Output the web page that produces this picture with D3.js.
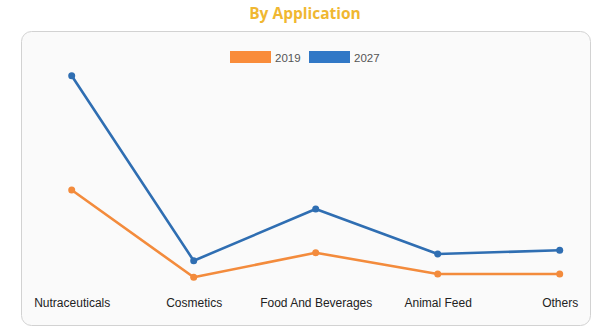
<!DOCTYPE html>
<html>
<head>
<meta charset="utf-8">
<script src="https://cdn.jsdelivr.net/npm/d3@7"></script>
<style>
  html, body { margin: 0; padding: 0; background: #ffffff; }
  svg { display: block; }
</style>
</head>
<body>
<svg id="chart" width="611" height="331"></svg>
<script>
const title = "By Application";
const categories = ["Nutraceuticals", "Cosmetics", "Food And Beverages", "Animal Feed", "Others"];
const seriesNames = ["2019", "2027"];
const values2019 = [803, 102, 299, 128, 128];
const values2027 = [1720, 235, 650, 289, 319];
const colors = ["#f38b3c", "#2f6eb2"];
const legendColors = ["#f98c3a", "#3178c6"];

const svg = d3.select("#chart");

// title
svg.append("text")
  .attr("x", 305).attr("y", 19)
  .attr("text-anchor", "middle")
  .attr("font-family", "'Open Sans', sans-serif")
  .attr("font-weight", "bold")
  .attr("font-size", 15.5)
  .attr("fill", "#f0b731")
  .text(title);

// panel
svg.append("rect")
  .attr("x", 21.5).attr("y", 31.5)
  .attr("width", 569).attr("height", 294)
  .attr("rx", 10).attr("ry", 10)
  .attr("fill", "#fafafa")
  .attr("stroke", "#d2d2d2")
  .attr("stroke-width", 1);

// scales
const x = d3.scalePoint().domain(categories).range([71.7, 559.7]);
const y = d3.scaleLinear().domain([0, 1720]).range([290, 75.7]);

// x axis labels
const xAxis = d3.axisBottom(x).tickSize(0).tickPadding(0);
const ax = svg.append("g").attr("transform", "translate(0,298)").call(xAxis);
ax.select(".domain").remove();
ax.selectAll("text")
  .attr("font-family", "'Liberation Sans', Arial, sans-serif")
  .attr("font-size", 12)
  .attr("fill", "#222");

// legend
const legend = svg.append("g");
const legendX = [230, 309];
seriesNames.forEach((s, i) => {
  legend.append("rect")
    .attr("x", legendX[i]).attr("y", 51)
    .attr("width", 41).attr("height", 12)
    .attr("fill", legendColors[i]);
  legend.append("text")
    .attr("x", legendX[i] + 45).attr("y", 61.5)
    .attr("font-family", "'Liberation Sans', Arial, sans-serif")
    .attr("font-size", 11.5)
    .attr("fill", "#555")
    .text(s);
});

// lines
const series = [values2019, values2027];
const line = d3.line().x((d, i) => x(categories[i])).y(d => y(d));
series.forEach((vals, si) => {
  svg.append("path")
    .datum(vals)
    .attr("fill", "none")
    .attr("stroke", colors[si])
    .attr("stroke-width", 2.6)
    .attr("stroke-linejoin", "round")
    .attr("d", line);
  svg.append("g").selectAll("circle")
    .data(vals).join("circle")
    .attr("cx", (d, i) => x(categories[i]))
    .attr("cy", d => y(d))
    .attr("r", 3.5)
    .attr("fill", colors[si]);
});
</script>
</body>
</html>
